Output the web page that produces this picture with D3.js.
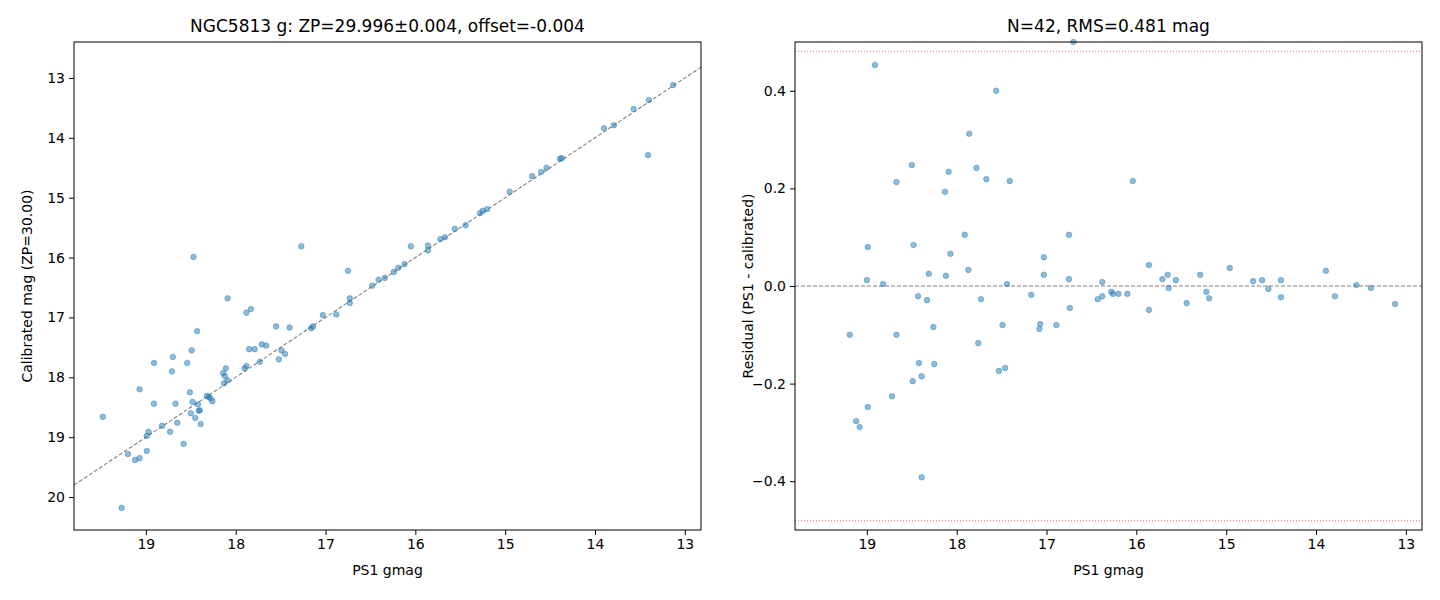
<!DOCTYPE html>
<html><head><meta charset="utf-8">
<script src="https://cdn.jsdelivr.net/npm/d3@7"></script>
<style>body{margin:0;background:#fff;font-family:"DejaVu Sans",sans-serif;}</style>
</head><body><svg id="c" width="1440" height="600"></svg>
<script>
// left panel: [PS1 gmag, calibrated mag]
var calPoints = [[19.48,18.66],[19.27,20.18],[19.20,19.28],[19.12,19.38],[19.07,19.35],[18.99,18.98],[18.99,19.23],[18.97,18.91],
 [18.91,18.44],[18.91,17.76],[19.07,18.20],[18.82,18.81],[18.73,18.91],[18.71,17.90],[18.70,17.66],[18.67,18.44],[18.65,18.76],
 [18.58,19.11],[18.54,17.76],[18.51,18.25],[18.50,18.60],[18.49,17.55],[18.48,18.41],[18.47,15.99],[18.45,18.68],[18.43,17.23],
 [18.42,18.45],[18.41,18.56],[18.40,18.55],[18.39,18.78],[18.32,18.31],[18.30,18.33],[18.28,18.35],[18.26,18.40],[18.14,17.93],
 [18.13,18.10],[18.12,17.98],[18.09,16.68],[18.09,18.05],[18.11,17.85],[17.90,17.85],[17.88,17.81],[17.85,17.53],[17.83,16.86],
 [17.88,16.92],[17.79,17.53],[17.71,17.45],[17.73,17.74],[17.66,17.47],[17.55,17.15],[17.52,17.70],[17.49,17.55],[17.45,17.61],
 [17.40,17.17],[17.27,15.81],[17.16,17.18],[17.14,17.15],[17.03,16.96],[16.88,16.95],[16.75,16.22],[16.73,16.76],[16.73,16.68],
 [16.48,16.47],[16.41,16.37],[16.34,16.34],[16.24,16.24],[16.19,16.17],[16.12,16.11],[16.05,15.81],[15.86,15.88],[15.86,15.80],
 [15.72,15.69],[15.67,15.66],[15.56,15.52],[15.44,15.46],[15.28,15.26],[15.25,15.22],[15.20,15.19],[14.95,14.90],[14.70,14.64],
 [14.60,14.57],[14.54,14.50],[14.39,14.35],[14.37,14.34],[13.90,13.84],[13.79,13.79],[13.57,13.52],[13.41,14.29],[13.40,13.37],
 [13.13,13.12]];
// right panel: [PS1 gmag, residual]
var resPoints = [[19.19,-0.10],[19.12,-0.277],[19.08,-0.289],[18.99,-0.248],[18.99,0.080],[19.00,0.012],[18.91,0.453],[18.82,0.004],
 [18.72,-0.226],[18.67,-0.10],[18.67,0.213],[18.50,0.248],[18.48,0.084],[18.49,-0.195],[18.43,-0.021],[18.42,-0.158],[18.39,-0.185],
 [18.39,-0.392],[18.33,-0.029],[18.31,0.025],[18.26,-0.084],[18.25,-0.160],[18.13,0.193],[18.12,0.021],[18.09,0.234],[18.07,0.066],
 [17.91,0.105],[17.87,0.033],[17.86,0.312],[17.78,0.242],[17.76,-0.117],[17.73,-0.027],[17.67,0.219],[17.56,0.40],[17.53,-0.174],
 [17.49,-0.08],[17.46,-0.168],[17.44,0.004],[17.41,0.215],[17.17,-0.018],[17.08,-0.088],[17.07,-0.078],[17.03,0.059],[17.03,0.023],
 [16.89,-0.080],[16.75,0.014],[16.75,0.105],[16.74,-0.045],[16.70,0.50],[16.43,-0.027],[16.38,-0.021],[16.38,0.008],[16.28,-0.012],
 [16.26,-0.016],[16.20,-0.016],[16.10,-0.016],[16.04,0.215],[15.86,0.043],[15.86,-0.049],[15.71,0.014],[15.65,0.023],[15.64,-0.004],
 [15.56,0.012],[15.44,-0.035],[15.29,0.023],[15.22,-0.012],[15.19,-0.025],[14.96,0.037],[14.70,0.010],[14.60,0.012],[14.53,-0.006],
 [14.39,0.012],[14.39,-0.023],[13.89,0.031],[13.79,-0.021],[13.55,0.002],[13.39,-0.004],[13.12,-0.037]];
var xTicks = [19,18,17,16,15,14,13];
var calTicks = [13,14,15,16,17,18,19,20];
var resTicks = [-0.4,-0.2,0.0,0.2,0.4];
var rmsLimit = 0.481;

var svg = d3.select("#c");
var top_ = 42, bot = 530;
var ptColor = "#1f77b4";

function panel(x0, x1, yDom, yTicks, yFmt, title, ylab, pts, extra) {
  var x = d3.scaleLinear().domain([19.8, 12.82]).range([x0, x1]);
  var y = d3.scaleLinear().domain(yDom).range([top_, bot]);
  var g = svg.append("g");
  extra(g, x, y);
  g.selectAll("circle.p").data(pts).enter().append("circle")
    .attr("cx", d => x(d[0])).attr("cy", d => y(d[1])).attr("r", 2.8)
    .attr("fill", ptColor).attr("fill-opacity", 0.5)
    .attr("stroke", ptColor).attr("stroke-opacity", 0.5).attr("stroke-width", 0.8);
  var ax = g.append("g").attr("transform", "translate(0," + bot + ")")
    .call(d3.axisBottom(x).tickValues(xTicks).tickSize(5).tickPadding(4).tickFormat(d3.format("d")));
  var ay = g.append("g").attr("transform", "translate(" + x0 + ",0)")
    .call(d3.axisLeft(y).tickValues(yTicks).tickSize(5).tickPadding(4).tickFormat(yFmt));
  [ax, ay].forEach(a => {
    a.select(".domain").remove();
    a.selectAll("text").attr("font-size", 14).attr("font-family", "DejaVu Sans").attr("fill", "#000");
    a.selectAll("line").attr("stroke", "#000");
  });
  g.append("rect").attr("x", x0).attr("y", top_).attr("width", x1 - x0).attr("height", bot - top_)
    .attr("fill", "none").attr("stroke", "#000").attr("stroke-width", 1);
  g.append("text").attr("x", (x0 + x1) / 2).attr("y", 32).attr("text-anchor", "middle")
    .attr("font-size", 17).text(title);
  g.append("text").attr("x", (x0 + x1) / 2).attr("y", 575).attr("text-anchor", "middle")
    .attr("font-size", 14).text("PS1 gmag");
  g.append("text").attr("transform", "translate(" + (x0 - 42) + "," + ((top_ + bot) / 2) + ") rotate(-90)")
    .attr("text-anchor", "middle").attr("font-size", 14).text(ylab);
}

panel(74, 701, [12.4, 20.55], calTicks, d3.format("d"),
  "NGC5813 g: ZP=29.996±0.004, offset=-0.004", "Calibrated mag (ZP=30.00)", calPoints,
  function (g, x, y) {
    var line = [[19.8, 19.8], [12.82, 12.82]];
    g.append("path").attr("d", d3.line().x(d => x(d[0])).y(d => y(d[1]))(line))
      .attr("stroke", "#000").attr("stroke-opacity", 0.5).attr("stroke-width", 1.1)
      .attr("stroke-dasharray", "4,2").attr("fill", "none");
  });

panel(795, 1422, [0.5, -0.5], resTicks, d3.format(".1f"),
  "N=42, RMS=0.481 mag", "Residual (PS1 - calibrated)", resPoints,
  function (g, x, y) {
    g.append("line").attr("x1", 795).attr("x2", 1422).attr("y1", y(0)).attr("y2", y(0))
      .attr("stroke", "#000").attr("stroke-opacity", 0.5).attr("stroke-width", 1.1).attr("stroke-dasharray", "4,2");
    [rmsLimit, -rmsLimit].forEach(v => g.append("line").attr("x1", 795).attr("x2", 1422)
      .attr("y1", y(v)).attr("y2", y(v)).attr("stroke", "red").attr("stroke-opacity", 0.6)
      .attr("stroke-width", 1).attr("stroke-dasharray", "1,2"));
  });
</script></body></html>
